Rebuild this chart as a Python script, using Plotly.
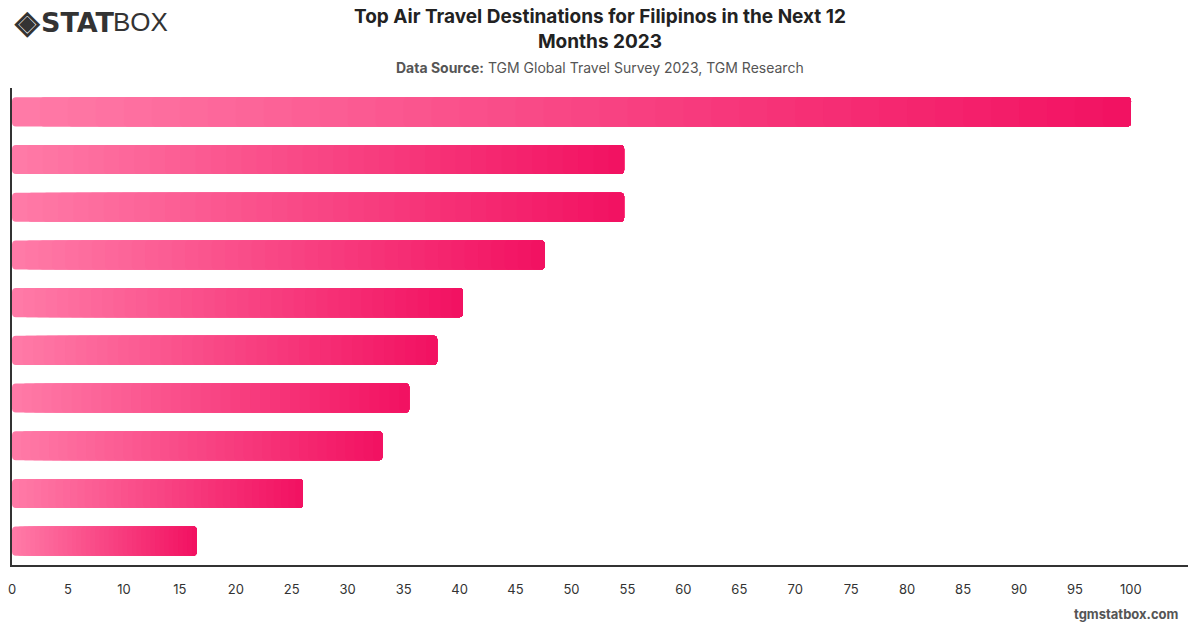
import plotly.graph_objects as go

# Data (destination names are not shown in the reference; ranks used as categories)
categories = ["Rank 1", "Rank 2", "Rank 3", "Rank 4", "Rank 5",
              "Rank 6", "Rank 7", "Rank 8", "Rank 9", "Rank 10"]
values = [100, 54.7, 54.7, 47.6, 40.3, 38.0, 35.5, 33.1, 26.0, 16.5]
x_ticks = list(range(0, 101, 5))

title_text = "<b>Top Air Travel Destinations for Filipinos in the Next 12<br>Months 2023</b>"
subtitle_text = "<b>Data Source:</b> TGM Global Travel Survey 2023, TGM Research"

# gradient colours (left -> right along each bar)
c0 = (255, 122, 167)
c1 = (242, 18, 98)
N = 40   # gradient steps

W, H = 1200, 628
pl, pr, pt, pb = 12, 12, 88, 63

fig = go.Figure()
for i in range(N):
    t = i / (N - 1)
    col = "rgb({},{},{})".format(*[round(a + (b - a) * t) for a, b in zip(c0, c1)])
    bases = [v * i / N for v in values]
    widths = [v * (N - i) / N for v in values]
    fig.add_trace(go.Bar(
        y=categories, x=widths, base=bases, orientation="h",
        marker=dict(color=col, line=dict(width=0), cornerradius=4),
        width=0.61, showlegend=False, hoverinfo="skip",
    ))

fig.update_layout(
    width=W, height=H,
    margin=dict(l=pl, r=pr, t=pt, b=pb, autoexpand=False),
    paper_bgcolor="white", plot_bgcolor="white",
    barmode="overlay",
    font=dict(family="Inter, Roboto, Arial, sans-serif", color="#333"),
    xaxis=dict(range=[0, 105.1], tickvals=x_ticks, showgrid=False, zeroline=False,
               showline=True, linecolor="#333", linewidth=1.5, automargin=False,
               ticks="", tickfont=dict(size=13, color="#333"), ticklabelstandoff=12,
               fixedrange=True),
    yaxis=dict(categoryorder="array", categoryarray=categories[::-1],
               showticklabels=False, showgrid=False, zeroline=False, automargin=False,
               showline=True, linecolor="#333", linewidth=1.5, ticks="",
               range=[-0.5, len(categories) - 0.5], fixedrange=True),
)

pw, ph = W - pl - pr, H - pt - pb
def px(x):
    return (x - pl) / pw
def py(y):
    return (H - pb - y) / ph

fig.add_annotation(text=title_text, xref="paper", yref="paper",
                   x=px(600), y=py(29), xanchor="center", yanchor="middle",
                   showarrow=False, font=dict(size=19, color="#222"))
fig.add_annotation(text=subtitle_text, xref="paper", yref="paper",
                   x=px(600), y=py(67), xanchor="center", yanchor="middle",
                   showarrow=False, font=dict(size=14, color="#555"))
fig.add_annotation(text="<b>◈</b>", xref="paper", yref="paper",
                   x=px(12), y=py(21), xanchor="left", yanchor="middle",
                   showarrow=False, font=dict(size=32, color="#333"))
fig.add_annotation(text="<b>STAT</b>", xref="paper", yref="paper",
                   x=px(39), y=py(22), xanchor="left", yanchor="middle",
                   showarrow=False, font=dict(size=27, color="#333",
                                              family="DejaVu Sans, Arial, sans-serif"))
fig.add_annotation(text="BOX", xref="paper", yref="paper",
                   x=px(111), y=py(22), xanchor="left", yanchor="middle",
                   showarrow=False, font=dict(size=26, color="#333",
                                              family="Liberation Sans, Arial, sans-serif"))
fig.add_annotation(text="<b>tgmstatbox.com</b>", xref="paper", yref="paper",
                   x=px(1181), y=py(614), xanchor="right", yanchor="middle",
                   showarrow=False, font=dict(size=13, color="#555"))

fig.write_html("out.html")
